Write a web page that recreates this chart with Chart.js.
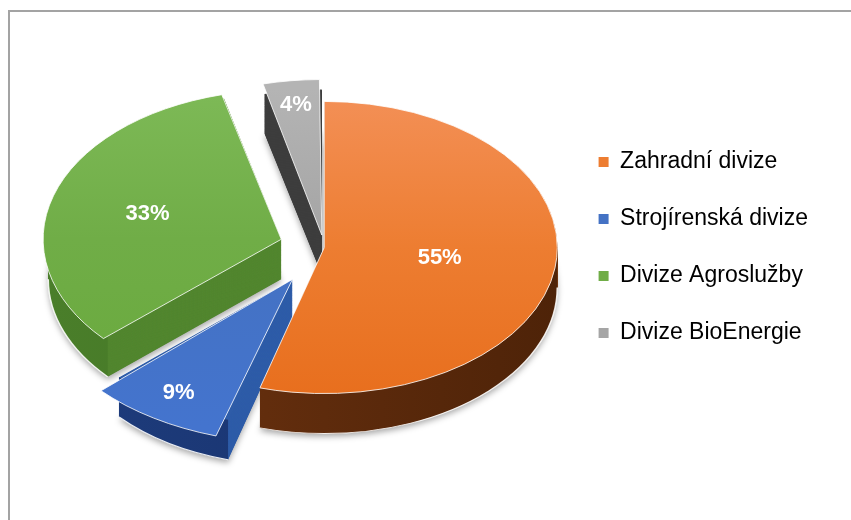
<!DOCTYPE html>
<html>
<head>
<meta charset="utf-8">
<script src="https://cdn.jsdelivr.net/npm/chart.js@4.4.1/dist/chart.umd.min.js"></script>
<style>
  html, body { margin: 0; padding: 0; background: #fff; }
  #wrap { width: 851px; height: 520px; position: relative; }
</style>
</head>
<body>
<div id="wrap"><canvas id="pieChart"></canvas></div>
<script>
// data
const divisions = ['Zahradní divize', 'Strojírenská divize', 'Divize Agroslužby', 'Divize BioEnergie'];
const shares = [55, 9, 33, 4];
const shareLabels = ['55%', '9%', '33%', '4%'];

// look
const topColors = ['#ED7D31', '#4472C4', '#70AD47', '#A5A5A5'];
const topLight = ['#F38F55', '#5B8DE3', '#7DB956', '#B4B4B4'];
const topDark = ['#E86F1E', '#4474CE', '#6AAA3E', '#9C9C9C'];
const faceColors = ['#7A3A10', '#2E5CA8', '#52862F', '#3E3E3E'];
const rimLeft = ['#6E3310', '#1E3C7C', '#4A7E2A', '#4A4A4A'];
const rimRight = ['#4E2308', '#16306A', '#3F7022', '#333333'];
const explode = [0, 240, 180, 80];
const labelPos = [0.5, 0.92, 0.6, 0.9];

const tilt = 0.627;
const depth = 40;
const pieRadius = 233;

function arcGeo(arc) {
    const p = arc.getProps(['x', 'y', 'startAngle', 'endAngle', 'outerRadius']);
    const mid = (p.startAngle + p.endAngle) / 2;
    const off = (arc.options.offset || 0) / 4;
    return {
        x: p.x + Math.cos(mid) * off,
        y: p.y + Math.sin(mid) * off,
        r: p.outerRadius,
        a0: p.startAngle,
        a1: p.endAngle,
        mid: mid
    };
}

const frame = {
    id: 'frame',
    beforeDraw(chart) {
        const ctx = chart.ctx;
        ctx.save();
        ctx.strokeStyle = '#a3a3a3';
        ctx.lineWidth = 2;
        ctx.strokeRect(9, 11, 1000, 1000);
        ctx.restore();
    }
};

const pie3d = {
    id: 'pie3d',
    beforeDatasetsDraw(chart) {
        const ctx = chart.ctx;
        const meta = chart.getDatasetMeta(0);
        const cx = meta.data[0].x;
        const cy = meta.data[0].y;
        ctx.save();
        ctx.translate(cx, cy);
        ctx.scale(1, tilt);
        ctx.translate(-cx, -cy);
        const dz = depth / tilt;

        // solid body, deepest layer first (with a soft shadow)
        for (let d = dz; d > 0; d -= 1) {
            meta.data.forEach((arc, i) => {
                const g = arcGeo(arc);
                ctx.save();
                if (d === dz) {
                    ctx.shadowColor = 'rgba(0,0,0,0.35)';
                    ctx.shadowBlur = 6;
                    ctx.shadowOffsetY = 3;
                }
                ctx.beginPath();
                ctx.moveTo(g.x, g.y + d);
                ctx.arc(g.x, g.y + d, g.r, g.a0, g.a1);
                ctx.closePath();
                ctx.fillStyle = faceColors[i];
                ctx.fill();
                ctx.restore();
            });
        }

        // outer rim, front half only
        meta.data.forEach((arc, i) => {
            const g = arcGeo(arc);
            for (let n = -1; n <= 1; n++) {
                const lo = Math.max(g.a0, 2 * Math.PI * n);
                const hi = Math.min(g.a1, Math.PI + 2 * Math.PI * n);
                if (hi <= lo) continue;
                const grad = ctx.createLinearGradient(g.x - g.r, 0, g.x + g.r, 0);
                grad.addColorStop(0, rimLeft[i]);
                grad.addColorStop(1, rimRight[i]);
                ctx.beginPath();
                ctx.arc(g.x, g.y, g.r, lo, hi);
                ctx.arc(g.x, g.y + dz, g.r, hi, lo, true);
                ctx.closePath();
                ctx.fillStyle = grad;
                ctx.fill();
                ctx.beginPath();
                ctx.arc(g.x, g.y + dz, g.r, lo, hi);
                ctx.strokeStyle = 'rgba(255,255,255,0.9)';
                ctx.lineWidth = 1.5;
                ctx.stroke();
            }
        });
    },
    afterDatasetsDraw(chart) {
        const ctx = chart.ctx;
        ctx.restore();
        const meta = chart.getDatasetMeta(0);
        const cy = meta.data[0].y;
        ctx.save();
        ctx.fillStyle = '#ffffff';
        ctx.font = 'bold 22px "Liberation Sans"';
        ctx.textAlign = 'center';
        ctx.textBaseline = 'middle';
        meta.data.forEach((arc, i) => {
            const g = arcGeo(arc);
            const rr = g.r * labelPos[i];
            const px = g.x + Math.cos(g.mid) * rr;
            const py = g.y + Math.sin(g.mid) * rr;
            ctx.fillText(shareLabels[i], px, cy + (py - cy) * tilt);
        });
        ctx.restore();
    }
};

function topFill(c) {
    const i = c.dataIndex;
    const area = c.chart.chartArea;
    if (!area) return topColors[i];
    const cy = (area.top + area.bottom) / 2;
    const grad = c.chart.ctx.createLinearGradient(0, cy - pieRadius, 0, cy + pieRadius);
    grad.addColorStop(0, topLight[i]);
    grad.addColorStop(0.5, topColors[i]);
    grad.addColorStop(1, topDark[i]);
    return grad;
}

const ctx = document.getElementById('pieChart').getContext('2d');
const pieChart = new Chart(ctx, {
    type: 'pie',
    data: {
        labels: divisions,
        datasets: [{
            data: shares,
            backgroundColor: topFill,
            borderColor: '#ffffff',
            borderWidth: 1,
            offset: explode,
            radius: pieRadius
        }]
    },
    options: {
        responsive: true,
        maintainAspectRatio: false,
        animation: false,
        layout: {
            padding: { left: 84, right: 33, top: 3, bottom: 28 }
        },
        plugins: {
            tooltip: { enabled: false },
            legend: {
                position: 'right',
                labels: {
                    boxWidth: 10,
                    boxHeight: 10,
                    padding: 34,
                    color: '#000000',
                    font: { family: 'Liberation Sans', size: 23 },
                    generateLabels: () => divisions.map((name, i) => ({
                        text: name,
                        fillStyle: topColors[i],
                        strokeStyle: topColors[i],
                        lineWidth: 0,
                        hidden: false,
                        index: i
                    }))
                }
            }
        }
    },
    plugins: [frame, pie3d]
});
</script>
</body>
</html>
